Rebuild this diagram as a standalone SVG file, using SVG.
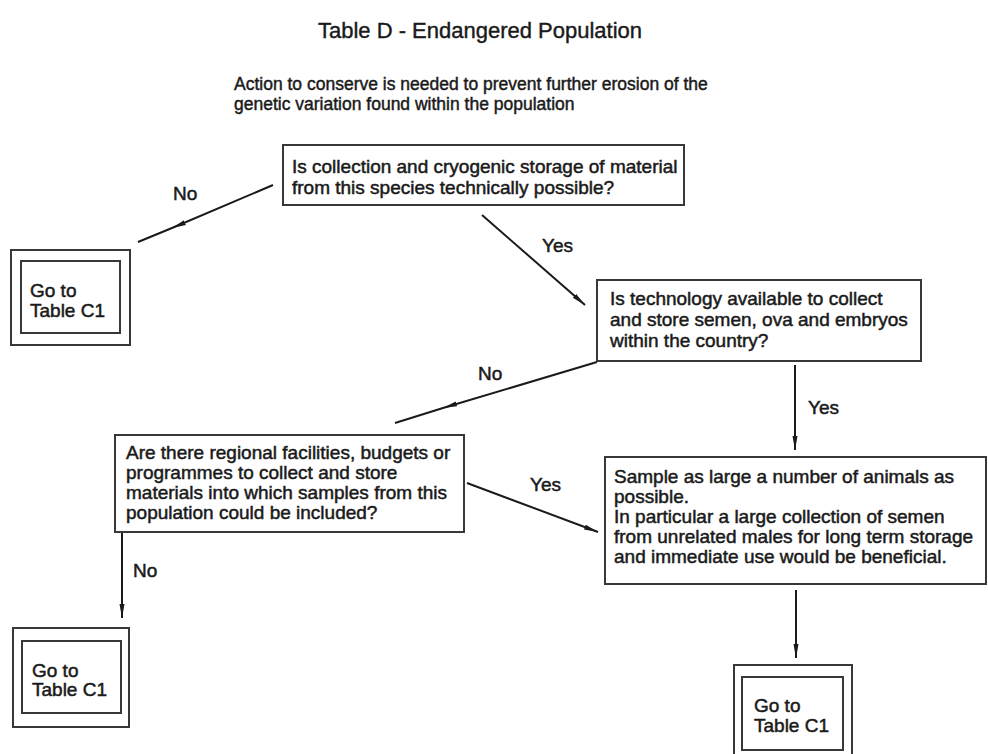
<svg xmlns="http://www.w3.org/2000/svg" width="988" height="754" viewBox="0 0 988 754">
<style>
  .t{font-family:"Liberation Sans",Arial,Helvetica,sans-serif;font-size:19px;fill:#1a1a1a;stroke:#1a1a1a;stroke-width:0.5}
  .title{font-size:22px;stroke-width:0.4}
  .sub{font-size:17.5px;stroke-width:0.45}
  .box{fill:#fff;stroke:#383838;stroke-width:2}
  .conn{fill:none;stroke:#1a1a1a;stroke-width:2}
</style>
<defs>
  <marker id="ah" markerUnits="userSpaceOnUse" markerWidth="16" markerHeight="8" refX="14" refY="3" orient="auto">
    <path d="M0,0.5 L14,3 L0,5.5 z" fill="#1a1a1a"/>
  </marker>
</defs>
<rect width="988" height="754" fill="#fff"/>

<g id="title">
  <text class="t title" x="480" y="38" text-anchor="middle">Table D - Endangered Population</text>
  <text class="t sub" x="234" y="90">Action to conserve is needed to prevent further erosion of the</text>
  <text class="t sub" x="234" y="110">genetic variation found within the population</text>
</g>

<g id="q1">
  <rect class="box" x="283" y="145" width="401" height="60"/>
  <text class="t" x="292" y="173">Is collection and cryogenic storage of material</text>
  <text class="t" x="292" y="194">from this species technically possible?</text>
</g>

<g id="q2">
  <rect class="box" x="597" y="280" width="324" height="81"/>
  <text class="t" x="610" y="305">Is technology available to collect</text>
  <text class="t" x="610" y="326">and store semen, ova and embryos</text>
  <text class="t" x="610" y="347">within the country?</text>
</g>

<g id="q3">
  <rect class="box" x="115" y="435" width="349" height="97"/>
  <text class="t" x="126" y="459">Are there regional facilities, budgets or</text>
  <text class="t" x="126" y="479">programmes to collect and store</text>
  <text class="t" x="126" y="499">materials into which samples from this</text>
  <text class="t" x="126" y="519">population could be included?</text>
</g>

<g id="action">
  <rect class="box" x="605" y="457" width="381" height="127"/>
  <text class="t" x="614" y="483">Sample as large a number of animals  as</text>
  <text class="t" x="614" y="503">possible.</text>
  <text class="t" x="614" y="523">In particular a large collection of semen</text>
  <text class="t" x="614" y="543">from unrelated males for long term storage</text>
  <text class="t" x="614" y="563">and immediate use would be beneficial.</text>
</g>

<g id="goto1">
  <rect class="box" x="11" y="250" width="119" height="95"/>
  <rect class="box" x="21" y="261" width="99" height="72"/>
  <text class="t" x="30" y="297">Go to</text>
  <text class="t" x="30" y="317">Table C1</text>
</g>

<g id="goto2">
  <rect class="box" x="13" y="628" width="116" height="99"/>
  <rect class="box" x="22" y="641" width="99" height="72"/>
  <text class="t" x="32" y="677">Go to</text>
  <text class="t" x="32" y="696">Table C1</text>
</g>

<g id="goto3">
  <rect class="box" x="734" y="665" width="118" height="100"/>
  <rect class="box" x="742" y="677" width="101" height="73"/>
  <text class="t" x="754" y="712">Go to</text>
  <text class="t" x="754" y="732">Table C1</text>
</g>

<g id="connectors">
  <path class="conn" d="M273,185 L172,228 L138,242" marker-mid="url(#ah)"/>
  <text class="t" x="173" y="200">No</text>
  <path class="conn" d="M482,215 L585,305" marker-end="url(#ah)"/>
  <text class="t" x="542" y="252">Yes</text>
  <path class="conn" d="M597,362 L443,408 L395,423" marker-mid="url(#ah)"/>
  <text class="t" x="478" y="380">No</text>
  <path class="conn" d="M795,365 L795,450" marker-end="url(#ah)"/>
  <text class="t" x="808" y="414">Yes</text>
  <path class="conn" d="M467,483 L598,532" marker-end="url(#ah)"/>
  <text class="t" x="530" y="491">Yes</text>
  <path class="conn" d="M122,533 L122,618" marker-end="url(#ah)"/>
  <text class="t" x="133" y="577">No</text>
  <path class="conn" d="M796,590 L796,658" marker-end="url(#ah)"/>
</g>
</svg>
